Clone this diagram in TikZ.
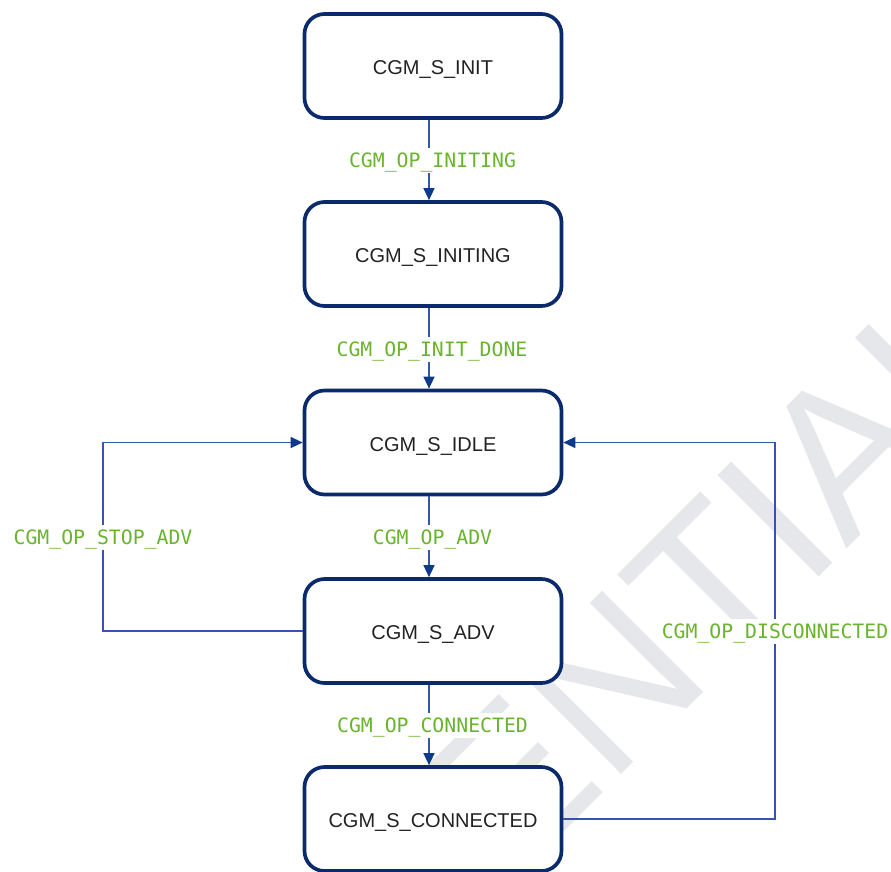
\documentclass[tikz,border=0pt]{standalone}
\usepackage{fontspec}
\setmainfont{Liberation Sans}
\newfontfamily\monof{DejaVu Sans Mono}
\usetikzlibrary{arrows.meta}
\definecolor{boxc}{HTML}{0B2A6B}
\definecolor{linec}{HTML}{3556A6}
\definecolor{tipc}{HTML}{0E3A8C}
\definecolor{lblc}{HTML}{69B42E}
\definecolor{wmc}{HTML}{E6E7EB}
\definecolor{txtc}{HTML}{222222}
\begin{document}
\begin{tikzpicture}[x=1pt,y=-1pt,
 state/.style={draw=boxc, line width=3.7pt, rounded corners=20pt, fill=white,
   minimum width=257pt, minimum height=104pt, inner sep=0pt,
   text height=17pt, text depth=0pt,
   font=\fontsize{20}{22}\selectfont, text=txtc},
 op/.style={fill=white, text=lblc, font=\monof\fontsize{19.8}{22}\selectfont,
   inner xsep=1pt, inner ysep=5pt, text height=14.4pt, text depth=0pt},
 conn/.style={draw=linec, line width=1.3pt, -{Triangle[length=12pt,width=11pt,color=tipc]}},
 wm/.style={rotate=45, text=wmc, font=\fontsize{208}{208}\selectfont, inner sep=0pt}]
\useasboundingbox (0,0) rectangle (891,871);
\begin{scope}
\clip (0,0) rectangle (891,871);
\node[wm] (water) at (436,858) {CONFIDENTIAL};
\end{scope}
% states
\node[state] (init)    at (433,66)    {CGM\_S\_INIT};
\node[state] (initing) at (433,254)   {CGM\_S\_INITING};
\node[state] (idle)    at (433,442.5) {CGM\_S\_IDLE};
\node[state] (adv)     at (433,631)   {CGM\_S\_ADV};
\node[state] (cnd)     at (433,819)   {CGM\_S\_CONNECTED};
% loop corners
\coordinate (lc) at (103,442.5);
\coordinate (rc) at (775,442.5);
% connectors
\draw[conn] ([xshift=-4pt]init.south)    -- ([xshift=-4pt]initing.north);
\draw[conn] ([xshift=-4pt]initing.south) -- ([xshift=-4pt]idle.north);
\draw[conn] ([xshift=-4pt]idle.south)    -- ([xshift=-4pt]adv.north);
\draw[conn] ([xshift=-4pt]adv.south)     -- ([xshift=-4pt]cnd.north);
\draw[conn] (adv.west) -| (lc) -- (idle.west);
\draw[conn] (cnd.east) -| (rc) -- (idle.east);
% labels
\node[op] (l1) at (432.5,160.5) {CGM\_OP\_INITING};
\node[op] (l2) at (432,349.5)   {CGM\_OP\_INIT\_DONE};
\node[op] (l3) at (432.5,537.5) {CGM\_OP\_ADV};
\node[op] (l4) at (432.5,725.5) {CGM\_OP\_CONNECTED};
\node[op] (l5) at (103,537.5)   {CGM\_OP\_STOP\_ADV};
\node[op] (l6) at (775,631.5)   {CGM\_OP\_DISCONNECTED};
\end{tikzpicture}
\end{document}
